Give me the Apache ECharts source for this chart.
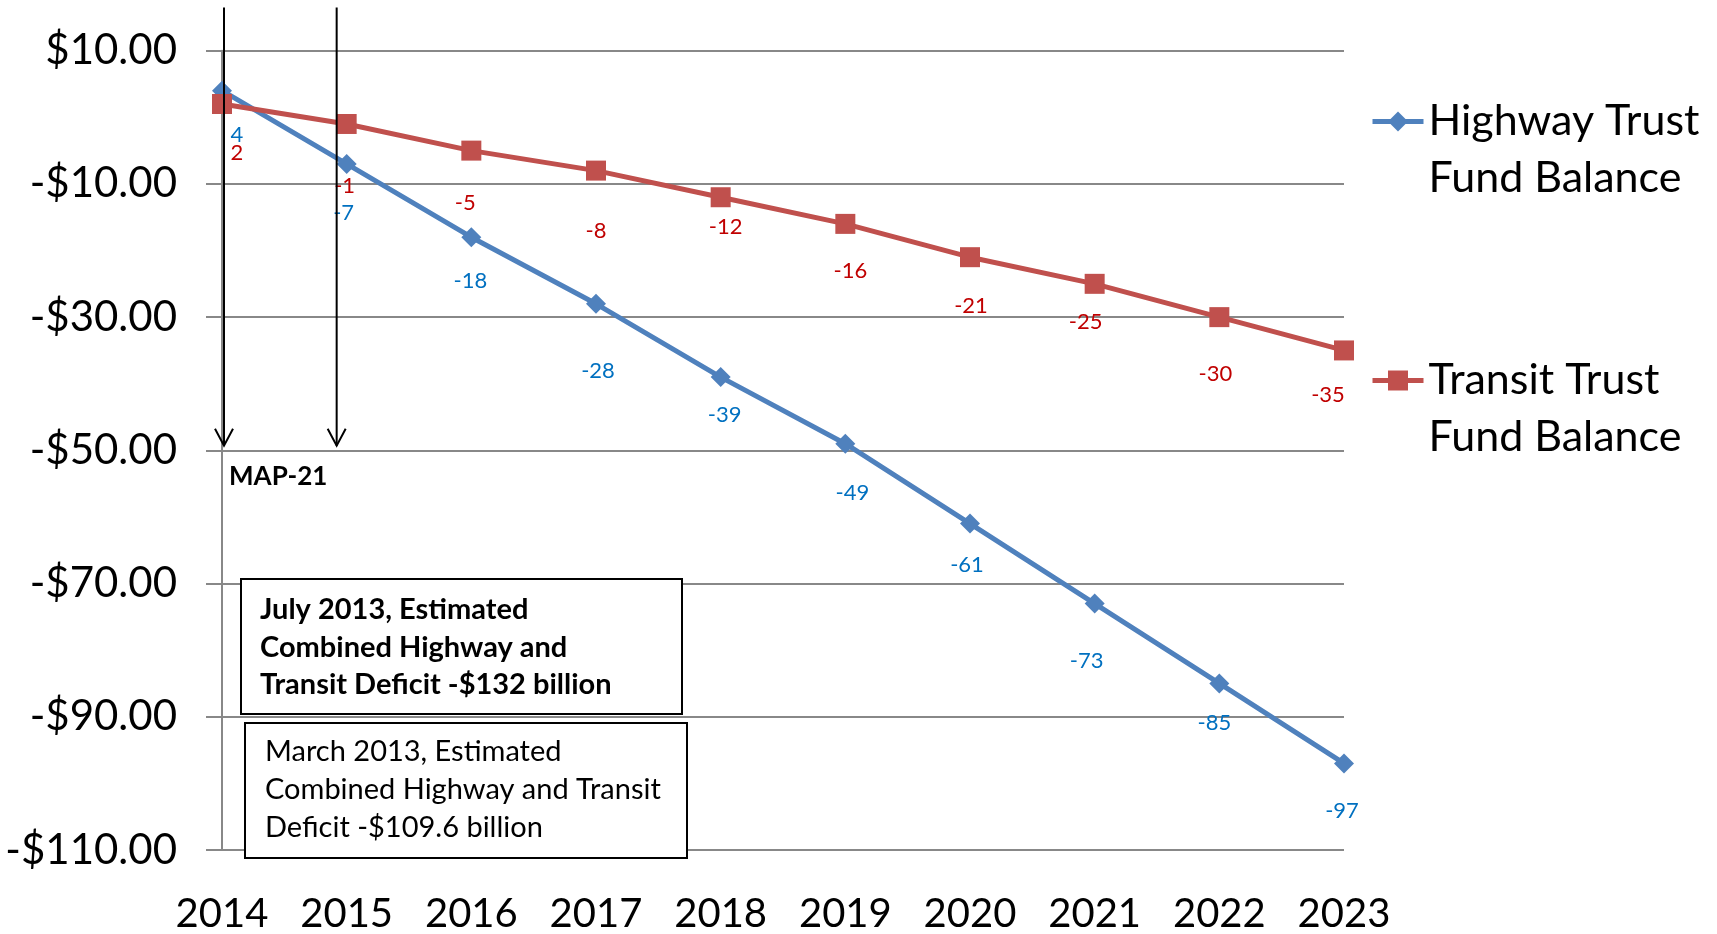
<!DOCTYPE html>
<html><head><meta charset="utf-8">
<script src="https://cdn.jsdelivr.net/npm/echarts@6/dist/echarts.min.js"></script>
<style>html,body{margin:0;padding:0;background:#fff}#c{width:1717px;height:934px}</style>
</head><body><div id="c"></div>
<script>
const years = ['2014','2015','2016','2017','2018','2019','2020','2021','2022','2023'];
const highway = [4, -7, -18, -28, -39, -49, -61, -73, -85, -97];
const transit = [2, -1, -5, -8, -12, -16, -21, -25, -30, -35];
const seriesNames = ['Highway Trust\nFund Balance', 'Transit Trust\nFund Balance'];
const yMin = -110, yMax = 10, yStep = 20;
const arrowYears = ['2014', '2015'];
const arrowShift = [2, -10];   // style: horizontal nudge of each arrow from its year
const mapLabel = 'MAP-21';
const noteJuly = ['July 2013, Estimated', 'Combined Highway and', 'Transit Deficit -$132 billion'];
const noteMarch = ['March 2013, Estimated', 'Combined Highway and Transit', 'Deficit -$109.6 billion'];
// label placement (style only): [dx, dy] from each point
const hwyLabelOffset = [[15,44],[-3,49],[-1,44],[2,67],[4,38],[7,49],[-3,41],[-8,57],[-5,39],[-2,47]];
const trnLabelOffset = [[15,49],[-2,62],[-6,52],[0,60],[5,30],[5,47],[1,49],[-9,38],[-4,57],[-16,44]];

const FONT = 'Lato, "Liberation Sans", sans-serif';
const chart = echarts.init(document.getElementById('c'), null, {renderer: 'canvas'});
const fmtMoney = v => (v < 0 ? '-' : '') + '$' + Math.abs(v).toFixed(2);

function mkSeries(name, vals, offs, lineColor, labelColor, symbol) {
  return {
    name, type: 'line', data: vals.map((v, i) => ({value: v, label: {offset: offs[i]}})),
    symbol, symbolSize: 20,
    lineStyle: {color: lineColor, width: 5},
    itemStyle: {color: lineColor},
    label: {show: true, position: 'inside', color: labelColor, fontFamily: FONT, fontSize: 22,
      formatter: p => String(p.value)},
    z: 3
  };
}
function mkLegend(name, top) {
  return {data: [name], left: 1370, top, padding: 0, itemWidth: 51, itemHeight: 25,
    lineStyle: {width: 5}, formatter: n => '\n' + n,
    textStyle: {fontFamily: FONT, fontSize: 43, lineHeight: 57, color: '#000'}};
}

chart.setOption({
  animation: false,
  backgroundColor: '#fff',
  grid: {left: 222, right: 373, top: 50.7, bottom: 82.5, containLabel: false},
  xAxis: {
    type: 'category', data: years, boundaryGap: false,
    axisLine: {show: false}, axisTick: {show: false}, splitLine: {show: false},
    axisLabel: {color: '#000', fontFamily: FONT, fontSize: 40, margin: 44}
  },
  yAxis: {
    type: 'value', min: yMin, max: yMax, interval: yStep,
    axisLine: {show: true, lineStyle: {color: '#888', width: 2}},
    axisTick: {show: true, length: 16, lineStyle: {color: '#888', width: 2}},
    splitLine: {show: true, lineStyle: {color: '#888', width: 2}},
    axisLabel: {color: '#000', fontFamily: FONT, fontSize: 42, margin: 45, formatter: fmtMoney}
  },
  legend: [mkLegend(seriesNames[0], 36), mkLegend(seriesNames[1], 295)],
  series: [
    mkSeries(seriesNames[0], highway, hwyLabelOffset, '#4F81BD', '#0070C0', 'diamond'),
    mkSeries(seriesNames[1], transit, trnLabelOffset, '#C0504D', '#C00000', 'rect')
  ]
});

// annotations
const px = (cat, v) => chart.convertToPixel({xAxisIndex: 0, yAxisIndex: 0}, [cat, v]);
const g = [];
arrowYears.forEach((y, i) => {
  const top = px(y, 16.5), tip = px(y, -49.3);
  const x = top[0] + arrowShift[i];
  g.push({type: 'line', shape: {x1: x, y1: top[1], x2: x, y2: tip[1]}, style: {stroke: '#000', lineWidth: 2}, z: 10});
  g.push({type: 'polyline', shape: {points: [[x - 9, tip[1] - 17], [x, tip[1]], [x + 9, tip[1] - 17]]},
    style: {stroke: '#000', lineWidth: 2, fill: null}, z: 10});
});
const mp = px(arrowYears[0], -54);
g.push({type: 'text', x: mp[0] + 7, y: mp[1], style: {text: mapLabel, fontFamily: FONT, fontWeight: 'bold', fontSize: 26,
  fill: '#000', verticalAlign: 'middle', align: 'left'}, z: 10});

function box(x0, y0, x1, y1, lines, bold, tx, ty, lh) {
  g.push({type: 'rect', shape: {x: x0, y: y0, width: x1 - x0, height: y1 - y0},
    style: {fill: '#fff', stroke: '#000', lineWidth: 2}, z: 20});
  g.push({type: 'text', x: tx, y: ty, z: 21, style: {text: lines.join('\n'), fontFamily: FONT, fontSize: 29,
    fontWeight: bold ? 'bold' : 'normal', lineHeight: lh, fill: '#000', verticalAlign: 'top', align: 'left'}});
}
box(241, 579, 682, 714, noteJuly, true, 260, 610 - 37.5 / 2, 37.5);
box(245, 723, 687, 858, noteMarch, false, 265, 752 - 38 / 2, 38);
chart.setOption({graphic: g});
</script></body></html>
